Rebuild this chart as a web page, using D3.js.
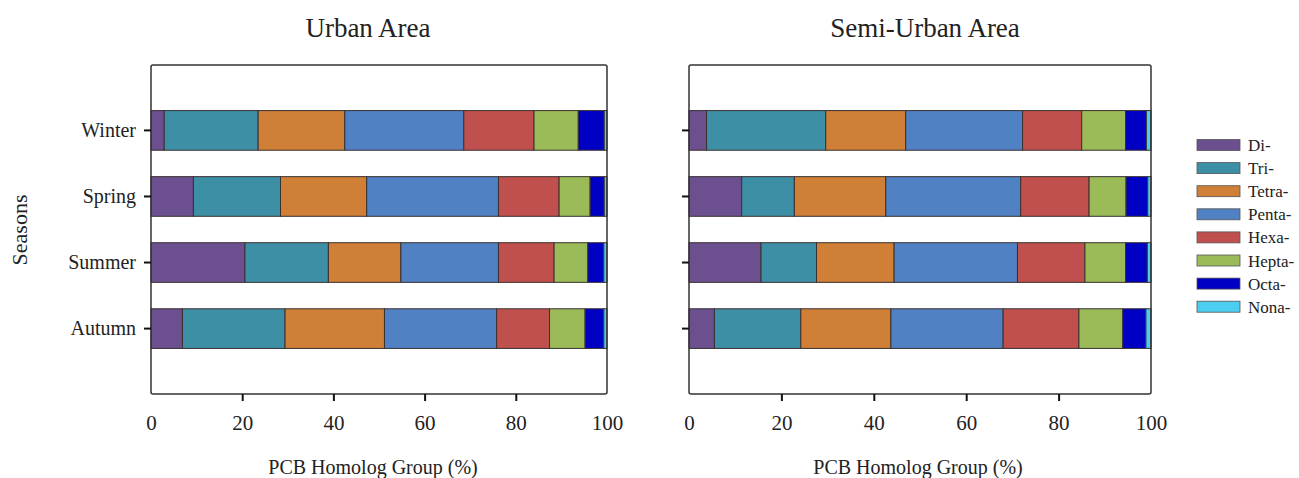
<!DOCTYPE html>
<html>
<head>
<meta charset="utf-8">
<script src="https://cdn.jsdelivr.net/npm/d3@7"></script>
<style>
  body { margin: 0; background: #fff; }
  text { font-family: "Liberation Serif", "DejaVu Serif", serif; fill: #222; }
</style>
</head>
<body>
<svg id="chart" width="1299" height="478"></svg>
<script>
// seasons top to bottom, homolog groups left to right
var seasons = ["Winter", "Spring", "Summer", "Autumn"];
var groups = ["Di-", "Tri-", "Tetra-", "Penta-", "Hexa-", "Hepta-", "Octa-", "Nona-"];
var colors = ["#6b4f8e", "#3d8fa6", "#d07f37", "#4f81c3", "#c0504d", "#9bbb59", "#0000c4", "#4dcdf0"];
var xTicks = [0, 20, 40, 60, 80, 100];

// percentages per season, in the order of groups
var urban = [
  [2.9, 20.6, 19.0, 26.1, 15.4, 9.7, 5.7, 0.6],
  [9.3, 19.1, 18.9, 28.9, 13.3, 6.8, 3.1, 0.6],
  [20.6, 18.3, 15.9, 21.4, 12.2, 7.4, 3.5, 0.7],
  [6.9, 22.5, 21.8, 24.6, 11.6, 7.8, 4.1, 0.7]
];
var semiUrban = [
  [3.8, 25.8, 17.3, 25.3, 12.8, 9.5, 4.5, 1.0],
  [11.4, 11.4, 19.8, 29.2, 14.8, 8.0, 4.7, 0.7],
  [15.6, 12.0, 16.8, 26.7, 14.6, 8.8, 4.7, 0.8],
  [5.5, 18.7, 19.5, 24.3, 16.4, 9.5, 5.0, 1.1]
];

var svg = d3.select("#chart");
var plotTop = 65, plotBottom = 394;

var y = d3.scaleBand().domain(seasons).range([plotTop, plotBottom])
  .paddingInner(0.4).paddingOuter(0.69);

function panel(title, data, x0, x1, showLabels, titleShift, labelShift) {
  var x = d3.scaleLinear().domain([0, 100]).range([x0, x1]);
  var g = svg.append("g");

  g.append("text").attr("x", (x0 + x1) / 2 + titleShift).attr("y", 37)
    .attr("text-anchor", "middle").style("font-size", "27px").text(title);

  // stacked bars
  data.forEach(function(row, i) {
    var acc = 0;
    row.forEach(function(v, j) {
      g.append("rect")
        .attr("x", x(acc)).attr("y", y(seasons[i]))
        .attr("width", x(acc + v) - x(acc)).attr("height", y.bandwidth())
        .attr("fill", colors[j]).attr("stroke", "#3a3030").attr("stroke-width", 1);
      acc += v;
    });
  });

  // frame
  g.append("rect").attr("x", x0).attr("y", plotTop)
    .attr("width", x1 - x0).attr("height", plotBottom - plotTop)
    .attr("rx", 2).attr("fill", "none").attr("stroke", "#333").attr("stroke-width", 1.5);

  // x axis
  var xa = g.append("g").attr("transform", "translate(0," + plotBottom + ")")
    .call(d3.axisBottom(x).tickValues(xTicks).tickSize(7).tickPadding(14));
  xa.select(".domain").remove();
  xa.selectAll("line").attr("stroke", "#111").attr("stroke-width", 2)
    .filter(function(d) { return d == 0 || d == 100; }).remove();
  xa.selectAll("text").style("font-size", "21px").attr("fill", "#222");

  g.append("text").attr("x", (x0 + x1) / 2 + labelShift).attr("y", 474)
    .attr("text-anchor", "middle").style("font-size", "20px").text("PCB Homolog Group (%)");

  // y axis
  var ya = g.append("g").attr("transform", "translate(" + x0 + ",0)")
    .call(d3.axisLeft(y).tickSize(7).tickPadding(8));
  ya.select(".domain").remove();
  ya.selectAll("line").attr("stroke", "#111").attr("stroke-width", 2);
  if (showLabels) {
    ya.selectAll("text").style("font-size", "20px").attr("fill", "#222");
  } else {
    ya.selectAll("text").remove();
  }
}

panel("Urban Area", urban, 151, 607, true, -11, -6);
panel("Semi-Urban Area", semiUrban, 689, 1151, false, 5, -2);

svg.append("text").attr("transform", "translate(27,230) rotate(-90)")
  .attr("text-anchor", "middle").style("font-size", "22px").text("Seasons");

// legend
var leg = svg.append("g").attr("transform", "translate(1197,145)");
groups.forEach(function(name, i) {
  var row = leg.append("g").attr("transform", "translate(0," + (i * 23.1) + ")");
  row.append("rect").attr("x", 0).attr("y", -5.5).attr("width", 43).attr("height", 11)
    .attr("fill", colors[i]).attr("stroke", "#555").attr("stroke-width", 0.8);
  row.append("text").attr("x", 51).attr("y", 6).style("font-size", "17px").text(name);
});
</script>
</body>
</html>
